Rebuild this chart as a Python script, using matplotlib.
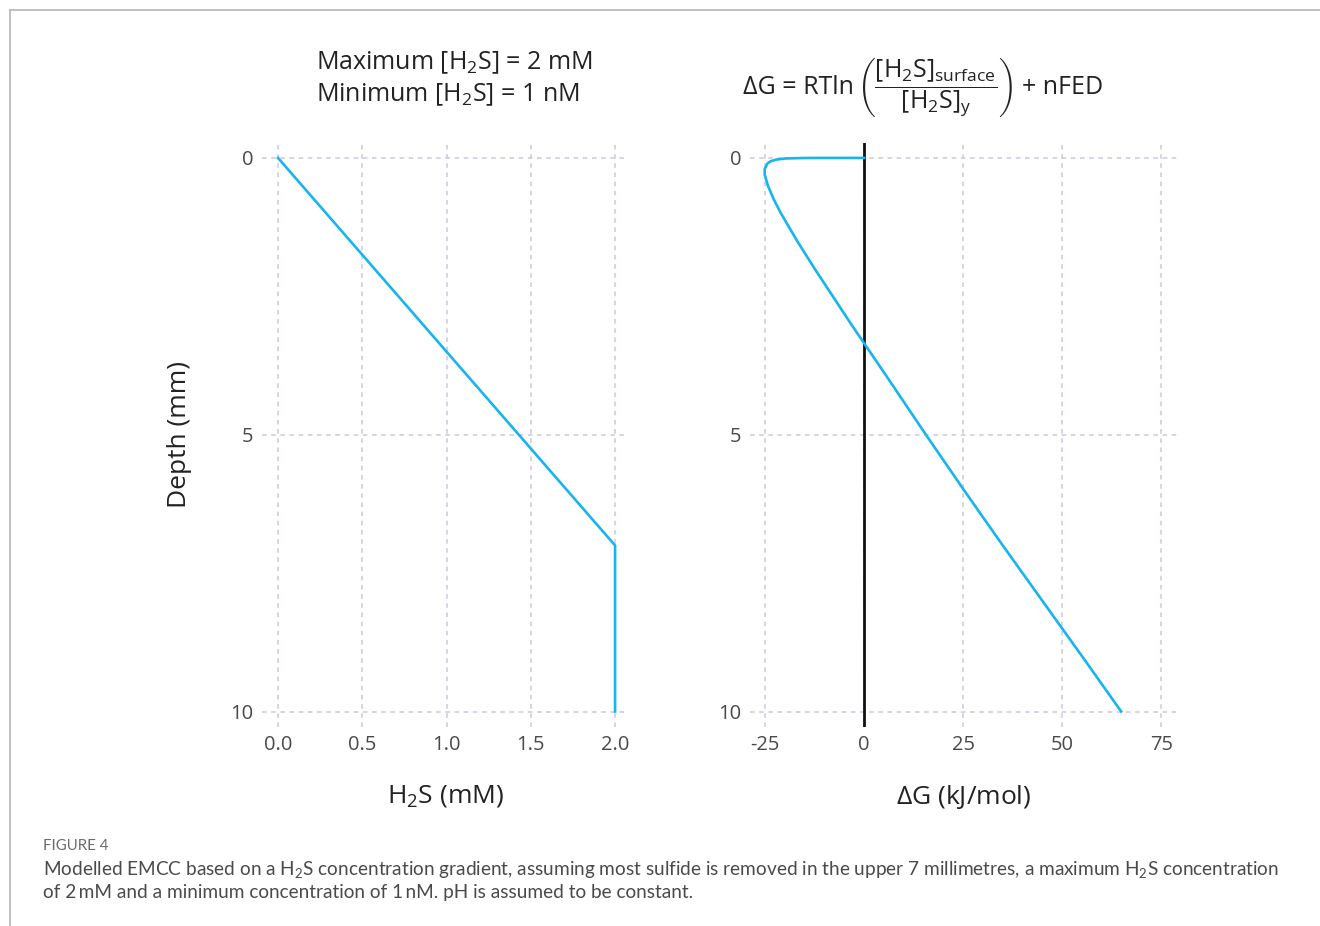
import matplotlib.pyplot as plt
from matplotlib.lines import Line2D

plt.rcParams['font.family'] = ['Open Sans', 'DejaVu Sans']
plt.rcParams['mathtext.fontset'] = 'custom'
plt.rcParams['mathtext.rm'] = 'Open Sans'
plt.rcParams['mathtext.it'] = 'Open Sans:italic'
plt.rcParams['axes.unicode_minus'] = False

# left panel: H2S concentration profile
h2s_depth = [0, 7, 10]
h2s_conc = [0.0, 2.0, 2.0]

# right panel: free energy profile
dg_depth = [0, 0.0005, 0.002, 0.01, 0.03, 0.06, 0.1, 0.2, 0.3, 0.5, 0.75,
            1, 1.5, 2, 3, 4, 5, 6, 7, 8, 9, 10]
dg_val = [0, -12.3, -15.7, -19.8, -22.2, -23.6, -24.4, -25.1, -25.1, -24.3, -22.8,
          -21.0, -16.9, -12.5, -3.3, 6.2, 15.6, 25.2, 35.0, 45.0, 55.0, 64.9]

left_xticks = [0.0, 0.5, 1.0, 1.5, 2.0]
left_xlabels = ['0.0', '0.5', '1.0', '1.5', '2.0']
right_xticks = [-25, 0, 25, 50, 75]
yticks = [0, 5, 10]

blue = '#18b4f0'
grid_col = '#c9c9dc'
tick_col = '#4a4a4a'
text_col = '#222222'

fig = plt.figure(figsize=(13.2, 9.26), dpi=100)
ax1 = fig.add_axes([0.1985, 0.2149, 0.2773, 0.6307])
ax2 = fig.add_axes([0.5682, 0.2149, 0.3235, 0.6307])

for ax in (ax1, ax2):
    for s in ax.spines.values():
        s.set_visible(False)
    ax.grid(True, color=grid_col, linestyle=(0, (3, 3)), linewidth=1.1)
    ax.set_axisbelow(True)
    ax.tick_params(length=0, labelsize=14.5, labelcolor=tick_col, pad=6)
    ax.set_yticks(yticks)
    ax.set_ylim(10.28, -0.27)

ax1.plot(h2s_conc, h2s_depth, color=blue, linewidth=1.9)
ax1.set_xticks(left_xticks)
ax1.set_xticklabels(left_xlabels)
ax1.set_xlim(-0.095, 2.077)
ax1.set_xlabel(r'H$_\mathregular{2}$S (mM)', fontsize=19, color=text_col, labelpad=20)
ax1.set_ylabel('Depth (mm)', fontsize=19, color=text_col, labelpad=28)

fig.text(0.2394, 0.915,
         'Maximum [H$_\\mathregular{2}$S] = 2 mM\nMinimum [H$_\\mathregular{2}$S] = 1 nM',
         fontsize=18, color=text_col, ha='left', va='center', linespacing=1.32)

ax2.axvline(0, color='#111111', linewidth=2)
ax2.plot(dg_val, dg_depth, color=blue, linewidth=1.9)
ax2.set_xticks(right_xticks)
ax2.set_xlim(-28.8, 79)
ax2.set_xlabel(r'$\mathregular{\Delta}$G (kJ/mol)', fontsize=19, color=text_col, labelpad=20)

# equation above the right panel
eq_y = 0.906
fig.text(0.647, eq_y, '\u0394G = RTln', fontsize=18, color=text_col, ha='right', va='center')
fig.text(0.649, eq_y,
         r'$\left(\dfrac{\mathrm{[H_2S]_{surface}}}{\mathrm{[H_2S]_y}}\right)$',
         fontsize=18, color=text_col, ha='left', va='center')
fig.text(0.774, eq_y, '+ nFED', fontsize=18, color=text_col, ha='left', va='center')

# caption
fig.text(0.0326, 0.0865, 'FIGURE 4', fontsize=10.8, color='#6b6b6b', va='center', fontfamily='Lato')
fig.text(0.0326, 0.0610,
         'Modelled EMCC based on a H$_\\mathregular{2}$S concentration gradient, assuming most sulfide is removed '
         'in the upper 7 millimetres, a maximum H$_\\mathregular{2}$S concentration',
         fontsize=13.7, color='#4a4a4a', va='center', fontfamily='Lato')
fig.text(0.0326, 0.0362,
         'of 2\u2009mM and a minimum concentration of 1\u2009nM. pH is assumed to be constant.',
         fontsize=13.7, color='#4a4a4a', va='center', fontfamily='Lato')

# frame lines
fig.add_artist(Line2D([0.0076, 1.0], [0.989, 0.989], transform=fig.transFigure,
                      color='#b5b5b5', linewidth=1.2))
fig.add_artist(Line2D([0.0076, 0.0076], [0.0, 0.989], transform=fig.transFigure,
                      color='#b5b5b5', linewidth=1.2))

fig.savefig('out.png', dpi=100)
